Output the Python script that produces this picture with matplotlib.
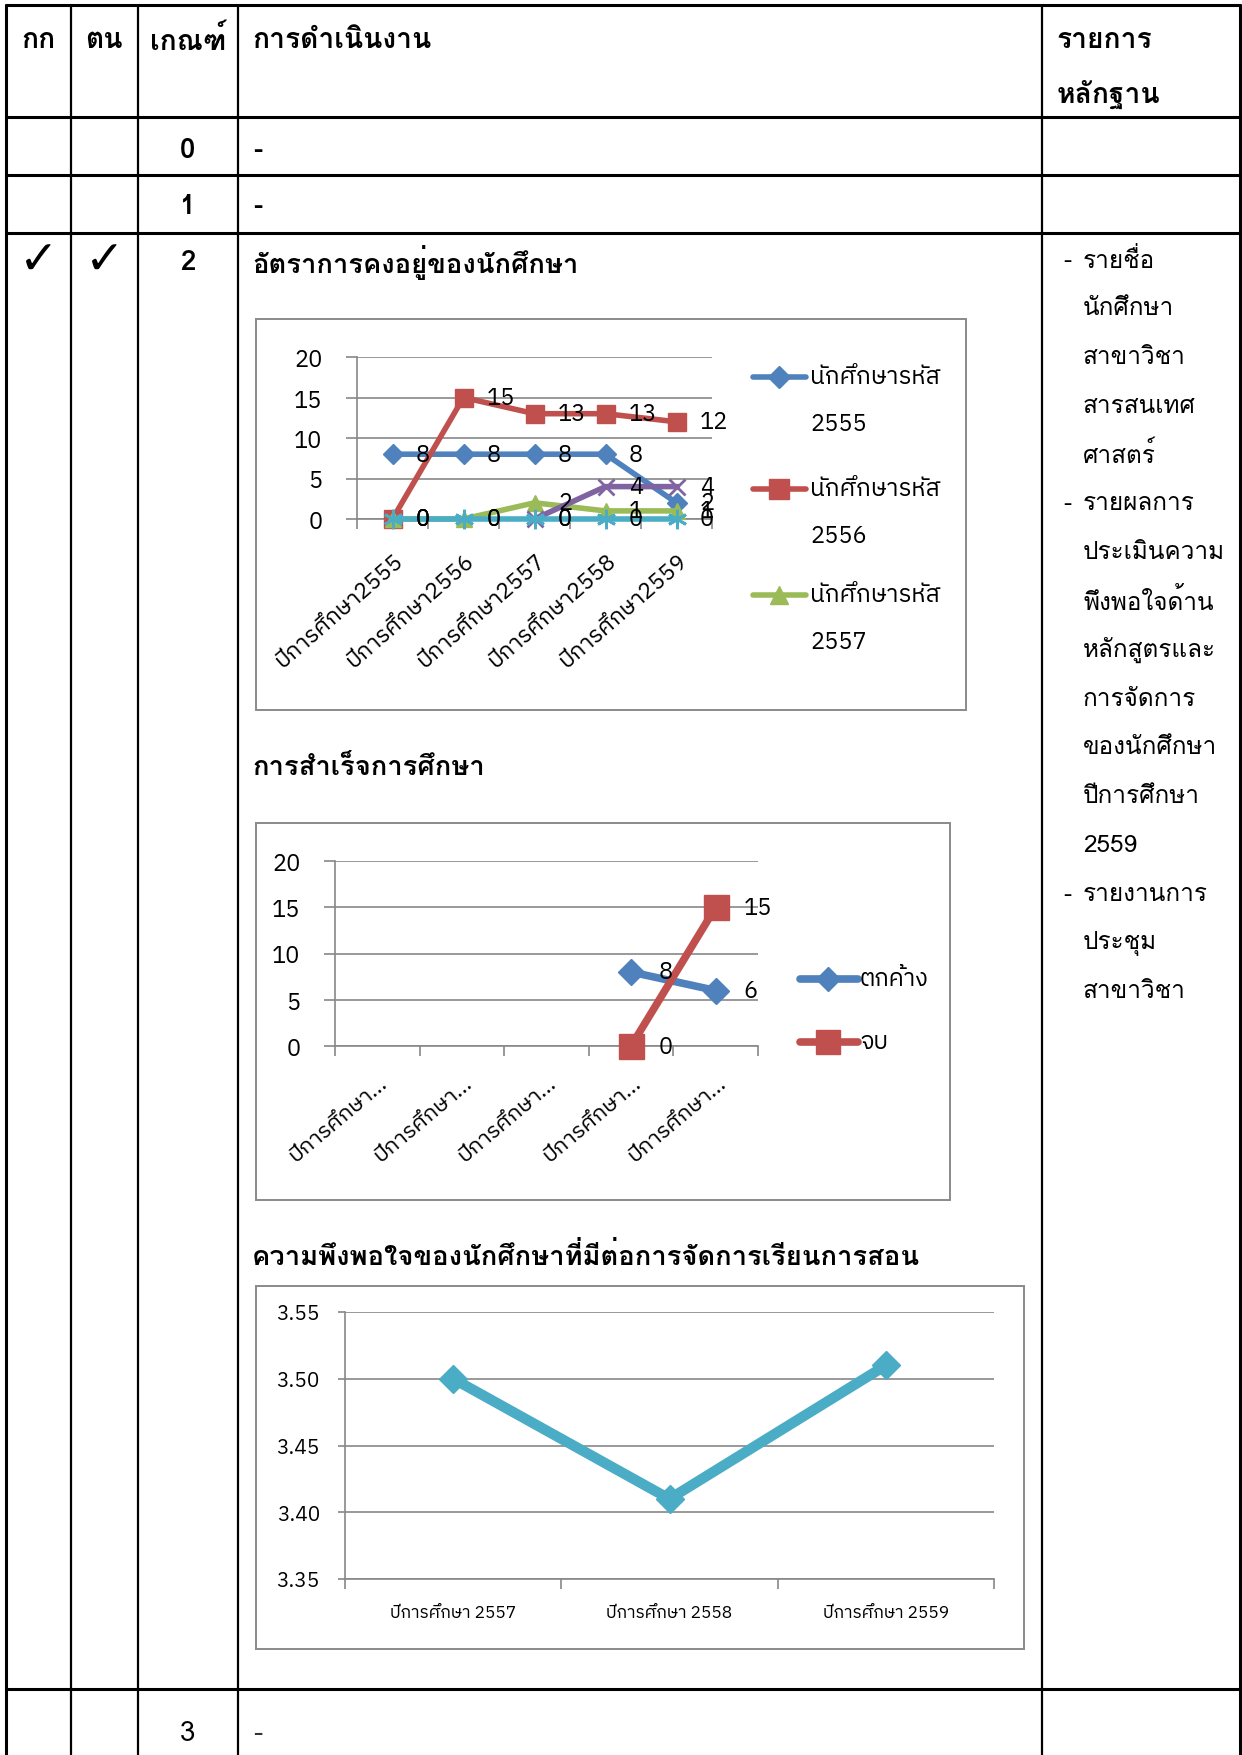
import numpy as np
import matplotlib
matplotlib.use("Agg")
import matplotlib.pyplot as plt
from matplotlib.lines import Line2D
from matplotlib.patches import Rectangle

# ---------------- data ----------------
header_labels = ["กก", "ตน", "เกณฑ์", "การดำเนินงาน", "รายการ", "หลักฐาน"]
criteria_levels = ["0", "1", "2", "3"]
operation_notes = ["-", "-", "", "-"]
check_marks = ["✓", "✓"]
section_titles = ["อัตราการคงอยู่ของนักศึกษา", "การสำเร็จการศึกษา",
                  "ความพึงพอใจของนักศึกษาที่มีต่อการจัดการเรียนการสอน"]
evidence_lines = ["- รายชื่อ", "นักศึกษา", "สาขาวิชา", "สารสนเทศ", "ศาสตร์",
                  "- รายผลการ", "ประเมินความ", "พึงพอใจด้าน", "หลักสูตรและ",
                  "การจัดการ", "ของนักศึกษา", "ปีการศึกษา", "2559",
                  "- รายงานการ", "ประชุม", "สาขาวิชา"]

retention_years = ["ปีการศึกษา2555", "ปีการศึกษา2556", "ปีการศึกษา2557",
                   "ปีการศึกษา2558", "ปีการศึกษา2559"]
retention_names = ["นักศึกษารหัส 2555", "นักศึกษารหัส 2556", "นักศึกษารหัส 2557",
                   "นักศึกษารหัส 2558", "นักศึกษารหัส 2559"]
ret_2555 = [8, 8, 8, 8, 2]
ret_2556 = [0, 15, 13, 13, 12]
ret_2557 = [0, 0, 2, 1, 1]
ret_2558 = [np.nan, np.nan, 0, 4, 4]
ret_2559 = [0, 0, 0, 0, 0]
retention_ticks = [0, 5, 10, 15, 20]

grad_years = ["ปีการศึกษา...", "ปีการศึกษา...", "ปีการศึกษา...",
              "ปีการศึกษา...", "ปีการศึกษา..."]
grad_names = ["ตกค้าง", "จบ"]
grad_pending = [np.nan, np.nan, np.nan, 8, 6]
grad_done = [np.nan, np.nan, np.nan, 0, 15]
grad_ticks = [0, 5, 10, 15, 20]

sat_years = ["ปีการศึกษา 2557", "ปีการศึกษา 2558", "ปีการศึกษา 2559"]
sat_scores = [3.50, 3.41, 3.51]
sat_ticks = [3.35, 3.40, 3.45, 3.50, 3.55]

# ---------------- style ----------------
W, H, DPI = 1242, 1756, 100
TF = ['Loma', 'DejaVu Sans']
CF = ['IBM Plex Sans Thai', 'DejaVu Sans']
GRID = '#878787'
C_BLUE, C_RED, C_GREEN, C_PURPLE, C_CYAN = '#4F81BD', '#C0504D', '#9BBB59', '#8064A2', '#4BACC6'

fig = plt.figure(figsize=(W / DPI, H / DPI), dpi=DPI)
bg = fig.add_axes([0, 0, 1, 1])
bg.set_xlim(0, W)
bg.set_ylim(H, 0)
bg.axis('off')


def rect(x0, y0, x1, y1):
    return [x0 / W, 1 - y1 / H, (x1 - x0) / W, (y1 - y0) / H]


# ---------------- table ----------------
col_x = [6, 71, 138, 238, 1042, 1240]
row_y = [6, 118, 176, 234, 1690]
for i, x in enumerate(col_x):
    bg.plot([x, x], [5, H], color='black', lw=2.2 if i in (0, 5) else 1.6,
            solid_capstyle='butt')
for y in row_y:
    bg.plot([5, 1241], [y, y], color='black', lw=2.2, solid_capstyle='butt')

hdr_fs = 20.3
bg.text(38, 40, header_labels[0], ha='center', va='center', fontsize=hdr_fs, fontweight='bold', family=TF)
bg.text(104, 40, header_labels[1], ha='center', va='center', fontsize=hdr_fs, fontweight='bold', family=TF)
bg.text(188, 40, header_labels[2], ha='center', va='center', fontsize=hdr_fs, fontweight='bold', family=TF)
bg.text(252, 40, header_labels[3], ha='left', va='center', fontsize=hdr_fs, fontweight='bold', family=TF)
bg.text(1057, 40, header_labels[4], ha='left', va='center', fontsize=hdr_fs, fontweight='bold', family=TF)
bg.text(1057, 94, header_labels[5], ha='left', va='center', fontsize=hdr_fs, fontweight='bold', family=TF)

crit_y = [150, 207, 263, 1734]
for lvl, note, y in zip(criteria_levels, operation_notes, crit_y):
    bg.text(188, y, lvl, ha='center', va='center', fontsize=20, family=TF,
            fontweight='bold' if lvl != "3" else 'normal')
    if note:
        bg.text(253, y, note, ha='left', va='center', fontsize=20,
                family=TF, fontweight='bold' if lvl != "3" else 'normal',
                color='black' if lvl != "3" else '#333333')

bg.text(39, 262, check_marks[0], ha='center', va='center', fontsize=34, family=['DejaVu Sans'])
bg.text(105, 262, check_marks[1], ha='center', va='center', fontsize=34, family=['DejaVu Sans'])

title_y = [263, 768, 1256]
for t, y in zip(section_titles, title_y):
    bg.text(252, y, t, ha='left', va='center', fontsize=19.7, fontweight='bold', family=TF)

ev_fs = 17.5
for i, line in enumerate(evidence_lines):
    y = 260 + 48.8 * i
    if line.startswith("- "):
        bg.text(1063, y, "-", ha='left', va='center', fontsize=ev_fs, family=TF)
        bg.text(1083, y, line[2:], ha='left', va='center', fontsize=ev_fs, family=TF)
    else:
        bg.text(1083, y, line, ha='left', va='center', fontsize=ev_fs, family=TF)

# chart frames
for (x0, y0, x1, y1) in [(256, 320, 966, 711), (256, 824, 950, 1201), (256, 1287, 1024, 1650)]:
    bg.add_patch(Rectangle((x0, y0), x1 - x0, y1 - y0, fill=False,
                           edgecolor='#8a8a8a', lw=1.4))


def style_axes(ax, yticks, ncat, fs, ylab_pad, ytick_len):
    ax.set_xlim(-0.5, ncat - 0.5)
    ax.set_ylim(yticks[0], yticks[-1])
    ax.set_yticks(yticks)
    ax.yaxis.grid(True, color=GRID, lw=1.2)
    ax.set_axisbelow(True)
    for s in ['top', 'right']:
        ax.spines[s].set_visible(False)
    for s in ['left', 'bottom']:
        ax.spines[s].set_color(GRID)
        ax.spines[s].set_linewidth(1.2)
    ax.set_xticks(np.arange(-0.5, ncat, 1.0))
    ax.set_xticklabels([])
    ax.tick_params(axis='x', which='major', length=7, width=1.2, color=GRID, direction='out')
    ax.tick_params(axis='y', which='major', length=ytick_len, width=1.2, color=GRID,
                   labelsize=fs, pad=ylab_pad)
    for lab in ax.get_yticklabels():
        lab.set_family(CF)
    ax.patch.set_alpha(0)


def label_points(ax, vals, fs, dx=17):
    for xi, v in enumerate(vals):
        if not np.isnan(v):
            ax.annotate(f"{v:g}", (xi, v), xytext=(dx, 0), textcoords='offset points',
                        ha='left', va='center', fontsize=fs, family=CF, zorder=10,
                        annotation_clip=False)


# ---------------- chart 1: retention ----------------
ax1 = fig.add_axes(rect(357, 358, 712, 520))
style_axes(ax1, retention_ticks, len(retention_years), 17, 17, 8)
xs = np.arange(len(retention_years))
series1 = [(ret_2555, C_BLUE, 'D', 10), (ret_2556, C_RED, 's', 13),
           (ret_2557, C_GREEN, '^', 12), (ret_2558, C_PURPLE, 'x', 12),
           (ret_2559, C_CYAN, (6, 2, 0), 14)]
for k, (vals, c, m, ms) in enumerate(series1):
    ax1.plot(xs, vals, color=c, lw=4, marker=m, ms=ms, mew=2 if m in ('x', (6, 2, 0)) else 1,
             mec=c, clip_on=False, zorder=3 + k)
for vals, c, m, ms in series1:
    label_points(ax1, vals, 17)
ax1.set_xticks(xs, minor=True)
ax1.set_xticklabels(retention_years, minor=True, rotation=41, ha='right',
                    rotation_mode='anchor', fontsize=16.5)
ax1.tick_params(axis='x', which='minor', length=0, pad=22)
for lab in ax1.get_xticklabels(minor=True):
    lab.set_family(CF)

# legend chart 1 (first three series shown, as in the original)
leg_y = [378, 490, 596]
for (vals, c, m, ms), name, y in zip(series1[:3], retention_names[:3], leg_y):
    bg.add_line(Line2D([753, 806], [y, y], color=c, lw=4, solid_capstyle='round'))
    bg.add_line(Line2D([779], [y], color=c, marker=m, ms=ms + 1, mec=c))
    first, second = name.split(" ")
    bg.text(810, y, first, ha='left', va='center', fontsize=17.5, family=CF)
    bg.text(810, y + 47, second, ha='left', va='center', fontsize=17, family=CF)

# ---------------- chart 2: graduation ----------------
ax2 = fig.add_axes(rect(335, 862, 758, 1047))
style_axes(ax2, grad_ticks, len(grad_years), 17, 17, 8)
xs2 = np.arange(len(grad_years))
series2 = [(grad_pending, C_BLUE, 'D', 13), (grad_done, C_RED, 's', 18)]
for k, (vals, c, m, ms) in enumerate(series2):
    ax2.plot(xs2, vals, color=c, lw=5.5, marker=m, ms=ms, mec=c, clip_on=False, zorder=3 + k)
for vals, c, m, ms in series2:
    label_points(ax2, vals, 17, dx=20)
ax2.set_xticks(xs2, minor=True)
ax2.set_xticklabels(grad_years, minor=True, rotation=40, ha='right',
                    rotation_mode='anchor', fontsize=16)
ax2.tick_params(axis='x', which='minor', length=0, pad=18)
for lab in ax2.get_xticklabels(minor=True):
    lab.set_family(CF)

leg2_y = [980, 1043]
for (vals, c, m, ms), name, y in zip(series2, grad_names, leg2_y):
    bg.add_line(Line2D([800, 858], [y, y], color=c, lw=5.5, solid_capstyle='round'))
    bg.add_line(Line2D([828], [y], color=c, marker=m, ms=ms - 1, mec=c))
    bg.text(860, y, name, ha='left', va='center', fontsize=17, family=CF)

# ---------------- chart 3: satisfaction ----------------
ax3 = fig.add_axes(rect(345, 1313, 994, 1580))
style_axes(ax3, sat_ticks, len(sat_years), 15, 13, 5)
ax3.set_yticklabels([f"{t:.2f}" for t in sat_ticks])
for lab in ax3.get_yticklabels():
    lab.set_family(CF)
xs3 = np.arange(len(sat_years))
ax3.plot(xs3, sat_scores, color=C_CYAN, lw=7.5, marker='D', ms=14, mec=C_CYAN,
         clip_on=False, zorder=3)
ax3.set_xticks(xs3, minor=True)
ax3.set_xticklabels(sat_years, minor=True, fontsize=12.5)
ax3.tick_params(axis='x', which='minor', length=0, pad=18)
for lab in ax3.get_xticklabels(minor=True):
    lab.set_family(CF)

fig.savefig("out.png", dpi=DPI)
